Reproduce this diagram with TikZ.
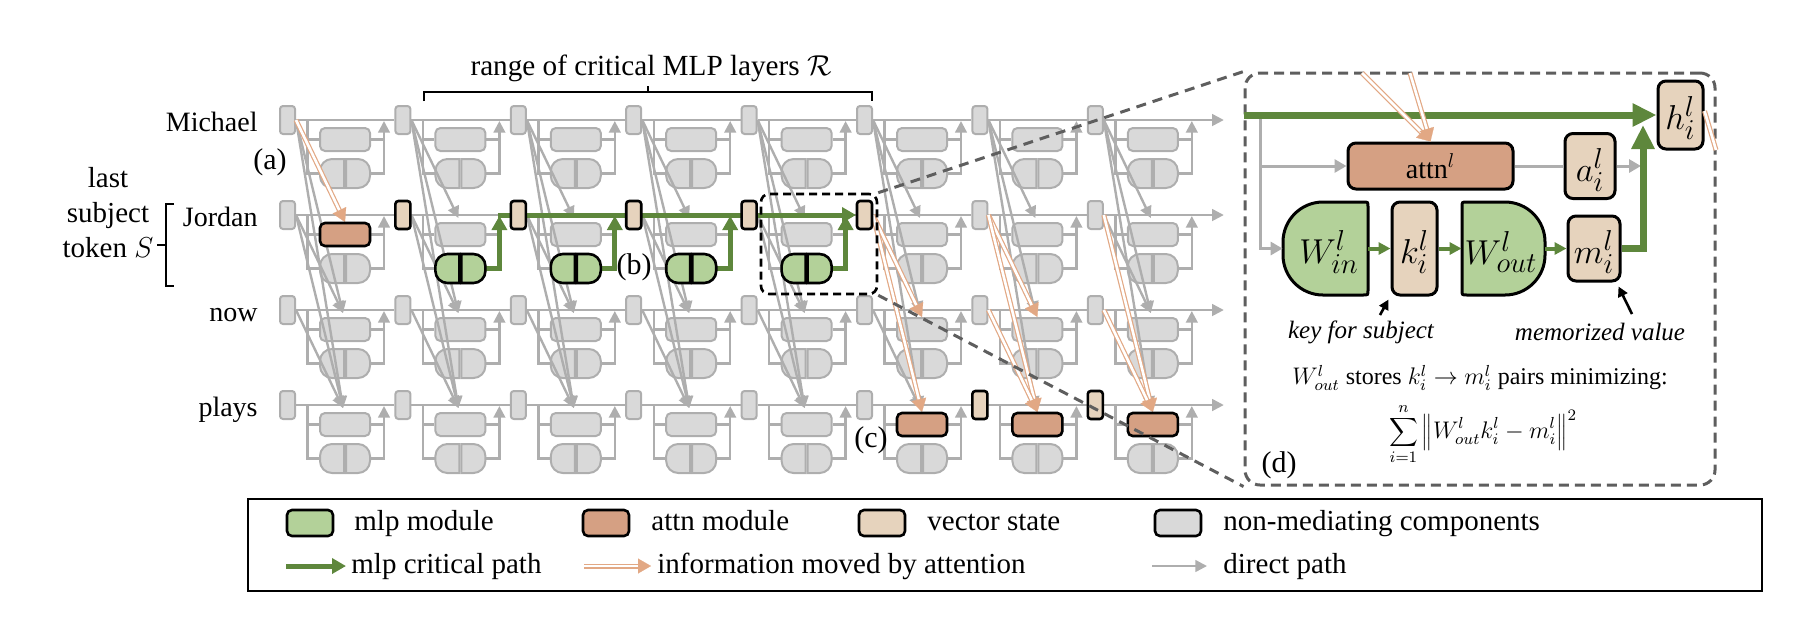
\documentclass[tikz,border=0pt]{standalone}
\usepackage{fontspec}
\setmainfont{Liberation Serif}
\usetikzlibrary{arrows.meta,calc}
\definecolor{gfill}{HTML}{D9D9D9}
\definecolor{gline}{HTML}{AEAEAE}
\definecolor{tanc}{HTML}{E6D3BD}
\definecolor{orfill}{HTML}{D5A083}
\definecolor{orline}{HTML}{E2A884}
\definecolor{grfill}{HTML}{B3D199}
\definecolor{grline}{HTML}{5E873C}
\definecolor{dgray}{HTML}{5E5E5E}
\newcommand\mlpshape[3]{%
  \path[#3] (#1+24,#2) -- (#1+12,#2) .. controls (#1+5.4,#2) and (#1,#2+5.4) .. (#1,#2+12) -- (#1,#2+17) .. controls (#1,#2+23.6) and (#1+5.4,#2+29) .. (#1+12,#2+29) -- (#1+24,#2+29) -- cycle;
  \path[#3] (#1+26,#2) -- (#1+38,#2) .. controls (#1+44.6,#2) and (#1+50,#2+5.4) .. (#1+50,#2+12) -- (#1+50,#2+17) .. controls (#1+50,#2+23.6) and (#1+44.6,#2+29) .. (#1+38,#2+29) -- (#1+26,#2+29) -- cycle;
}
\newcommand\orarrow[2]{\draw[ordbl] (#1) -- (#2); \draw[ortip] ($(#2)!6.5pt!(#1)$) -- (#2);}
\begin{document}
\begin{tikzpicture}[x=0.5pt,y=-0.5pt,
  stbox/.style={rectangle, rounded corners=1.5pt, minimum width=7.5pt, minimum height=14pt, inner sep=0pt},
  grayst/.style={stbox, fill=gfill, draw=gline, line width=1pt},
  tanst/.style={stbox, fill=tanc, draw=black, line width=1.3pt},
  atbox/.style={rectangle, rounded corners=2.5pt, minimum width=25pt, minimum height=11.5pt, inner sep=0pt},
  grayat/.style={atbox, fill=gfill, draw=gline, line width=1pt},
  orat/.style={atbox, fill=orfill, draw=black, line width=1.3pt},
  graymlp/.style={fill=gfill, draw=gline, line width=1pt},
  greenmlp/.style={fill=grfill, draw=black, line width=1.3pt},
  gl/.style={draw=gline, line width=1.2pt},
  garr/.style={gl, -{Triangle[length=5.8pt,width=5.8pt]}},
  grarr/.style={draw=grline, line width=2.5pt, -{Triangle[length=7pt,width=7.5pt]}},
  ordbl/.style={draw=orline, line width=0.6pt, double=white, double distance=1.3pt, shorten >=5pt},
  ortip/.style={draw=orline, line width=0.1pt, -{Triangle[length=6.5pt,width=7.5pt]}},
  lab/.style={inner sep=0pt, font=\fontsize{14}{17}\selectfont},
  leglab/.style={inner sep=0pt, font=\fontsize{14.5}{17}\selectfont, anchor=base west},
  plab/.style={inner sep=0pt, font=\fontsize{15}{18}\selectfont},
  bigm/.style={inner sep=0pt, font=\fontsize{19}{22}\selectfont},
  vbox/.style={rectangle, rounded corners=4pt, fill=tanc, draw=black, line width=1.5pt, inner sep=0pt},
  gl2/.style={draw=gline, line width=1.5pt},
  garr2/.style={gl2, -{Triangle[length=6pt,width=6.5pt]}},
  grsm/.style={draw=grline, line width=2pt, -{Triangle[length=6pt,width=6pt]}},
  grbig/.style={draw=grline, line width=3.5pt, -{Triangle[length=12pt,width=11pt]}},
  lgbox/.style={rectangle, rounded corners=2.5pt, minimum width=23pt, minimum height=13pt, draw=black, line width=1.3pt, inner sep=0pt},
  dashconn/.style={draw=dgray, line width=1.5pt, dash pattern=on 5pt off 3.5pt},
]
\useasboundingbox (0,0) rectangle (1808,634);

% ---------- gray grid boxes ----------
\foreach \row in {1,...,4}{
  \foreach \col in {1,...,8}{
    \pgfmathsetmacro\xx{287.5+115.4*(\col-1)}
    \pgfmathsetmacro\yy{120+95*(\row-1)}
    \node[grayst] (s-\row-\col) at (\xx,\yy) {};
    \node[grayat] (a-\row-\col) at (\xx+57.5,\yy+19.5) {};
    \coordinate (ml-\row-\col) at (\xx+32.5,\yy+53.5);
    \coordinate (mr-\row-\col) at (\xx+82.5,\yy+53.5);
    \pgfmathsetmacro\mlx{\xx+32.5}
    \pgfmathsetmacro\mly{\yy+39}
    \mlpshape{\mlx}{\mly}{graymlp}
  }
}

% ---------- gray connectors ----------
\foreach \row in {1,...,4}{
  \foreach \col in {1,...,8}{
    \draw[gl] ($(s-\row-\col.east)+(11.5,0)$) |- (ml-\row-\col);
    \draw[gl] ($(s-\row-\col.east)+(11.5,19.5)$) -- (a-\row-\col.west);
    \draw[gl] (a-\row-\col.east) -- ++(13,0);
    \draw[garr] (mr-\row-\col) -| ($(s-\row-\col.east)+(88,1)$);
  }
  \foreach \col [evaluate=\col as \nx using int(\col+1)] in {1,...,7}{
    \draw[gl] (s-\row-\col.east) -- (s-\row-\nx.west);
  }
  \draw[garr] (s-\row-8.east) -- ++(120,0);
}
\foreach \col/\pairs in {1/{1/3,1/4,2/3,2/4,3/4},2/{1/2,1/3,1/4,2/3,2/4,3/4},3/{1/2,1/3,1/4,2/3,2/4,3/4},4/{1/2,1/3,1/4,2/3,2/4,3/4},5/{1/2,1/3,1/4,2/3,2/4,3/4},6/{1/2,1/3,1/4,3/4},7/{1/2,1/3,1/4},8/{1/2,1/3,1/4,2/3}}{
  \foreach \srow/\trow in \pairs{
    \draw[garr] (s-\srow-\col.east) -- ($(a-\trow-\col.north)+(-2,-4)$);
  }
}

% ---------- orange attention arrows ----------
\orarrow{s-1-1.east}{a-2-1.north}
\orarrow{s-2-6.east}{a-3-6.north}
\orarrow{s-2-6.east}{a-4-6.north}
\orarrow{s-2-7.east}{a-3-7.north}
\orarrow{s-2-7.east}{a-4-7.north}
\orarrow{s-3-7.east}{a-4-7.north}
\orarrow{s-2-8.east}{a-4-8.north}
\orarrow{s-3-8.east}{a-4-8.north}

% ---------- green critical path ----------
\draw[grarr] ($(s-2-2.east)+(86.5,0)$) -- (s-2-6.west);
\foreach \col in {2,...,5}{
  \draw[grarr] (mr-2-\col) -| ($(s-2-\col.east)+(88,1)$);
  \pgfmathsetmacro\xx{287.5+115.4*(\col-1)}
  \pgfmathsetmacro\mlx{\xx+32.5}
  \mlpshape{\mlx}{254}{greenmlp}
}
\node[orat] (oa-2-1) at (a-2-1.center) {};
\foreach \col in {6,7,8}{ \node[orat] (oa-4-\col) at (a-4-\col.center) {}; }
\foreach \col in {2,...,6}{ \node[tanst] (ts-2-\col) at (s-2-\col.center) {}; }
\foreach \col in {7,8}{ \node[tanst] (ts-4-\col) at (s-4-\col.center) {}; }

% ---------- labels ----------
\node[lab, anchor=base east] (lMichael) at (258,131) {Michael};
\node[lab, anchor=base east] (lJordan) at (258,226.5) {Jordan};
\node[lab, anchor=base east] (lnow) at (258,321) {now};
\node[lab, anchor=base east] (lplays) at (258,416) {plays};
\node[lab, align=center, font=\fontsize{14.5}{17.5}\selectfont] (lsubj) at (108,213) {last\\subject\\token $S$};
\draw[line width=1.2pt] (174,204) -| (166,286) -- (174,286);
\draw[line width=1.2pt] (166,245) -- (157,245);
\draw[line width=1.2pt] (424,101) |- (872,92) -- (872,101);
\draw[line width=1.2pt] (648,92) -- (648,86);
\node[lab, font=\fontsize{14.6}{17}\selectfont] (lrange) at (651,68) {range of critical MLP layers $\mathcal{R}$};
\node[plab] (la) at (270,162) {(a)};
\node[plab] (lb) at (634,267) {(b)};
\node[plab] (lc) at (871,440) {(c)};

% ---------- panel (d) ----------
\node[draw=dgray, line width=1.5pt, dash pattern=on 5pt off 3pt, rounded corners=7.5pt, minimum width=235pt, minimum height=206pt, inner sep=0pt] (panel) at (1480,279) {};
\node[rectangle, rounded corners=4pt, fill=orfill, draw=black, line width=1.5pt, minimum width=82.5pt, minimum height=23pt, inner sep=0pt, font=\fontsize{14}{17}\selectfont] (attnL) at (1430.5,166) {attn$^{l}$};
\node[vbox, minimum width=25pt, minimum height=32.5pt] (aL) at (1590,166) {};
\node[vbox, minimum width=22.5pt, minimum height=34pt] (hL) at (1680.5,115) {};
\node[vbox, minimum width=22.5pt, minimum height=46.5pt] (kL) at (1414.5,248.5) {};
\node[vbox, minimum width=26pt, minimum height=32.5pt] (mL) at (1594,248.5) {};
\node[bigm] at (1590,170) {$a^{l}_{i}$};
\node[bigm] at (1680.5,118) {$h^{l}_{i}$};
\node[bigm] at (1414.5,252) {$k^{l}_{i}$};
\node[bigm] at (1594,252) {$m^{l}_{i}$};
\path[fill=grfill, draw=black, line width=1.5pt] (1363,202) -- (1323,202) .. controls (1300.9,202) and (1283,219.9) .. (1283,242) -- (1283,255) .. controls (1283,277.1) and (1300.9,295) .. (1323,295) -- (1363,295) .. controls (1368,295) and (1368,295) .. (1368,290) -- (1368,207) .. controls (1368,202) and (1368,202) .. (1363,202) -- cycle;
\path[fill=grfill, draw=black, line width=1.5pt] (1467,202) -- (1505,202) .. controls (1527.1,202) and (1545,219.9) .. (1545,242) -- (1545,255) .. controls (1545,277.1) and (1527.1,295) .. (1505,295) -- (1467,295) .. controls (1462,295) and (1462,295) .. (1462,290) -- (1462,207) .. controls (1462,202) and (1462,202) .. (1467,202) -- cycle;
\node[minimum width=42.5pt, minimum height=46.5pt, inner sep=0pt] (win) at (1325.5,248.5) {};
\node[minimum width=41.5pt, minimum height=46.5pt, inner sep=0pt] (wout) at (1503.5,248.5) {};
\node[bigm] at (1329,252) {$W^{l}_{in}$};
\node[bigm] at (1501,252) {$W^{l}_{out}$};
% panel connectors
\draw[garr2] (1260,115) |- (win.west);
\draw[garr2] (1260,166) -- (attnL.west);
\draw[grbig] (panel.west |- hL.west) -- (hL.west);
\draw[grsm] (win.east) -- (kL.west);
\draw[grsm] (kL.east) -- (wout.west);
\draw[grsm] (wout.east) -- (mL.west);
\draw[gl2] (attnL.east) -- (aL.west);
\draw[garr2] (aL.east) -- (1641,166);
\draw[grbig] (mL.east) -| (1643,125);
\coordinate (pin1) at (1362,73);
\coordinate (pin2) at (1410,73);
\coordinate (pout) at (1716,150);
\orarrow{pin1}{attnL.north}
\orarrow{pin2}{attnL.north}
\draw[draw=orline, line width=0.6pt, double=white, double distance=1.3pt] ($(hL.east)+(0,-4)$) -- (pout);
% annotations
\node[inner sep=0pt, font=\fontsize{12.5}{15}\selectfont\itshape] (tkey) at (1361,332) {key for subject};
\node[inner sep=0pt, font=\fontsize{12.5}{15}\selectfont\itshape] (tmem) at (1600,332) {memorized value};
\draw[line width=1.3pt, -{Triangle[length=5pt,width=5pt]}] (1380,315) -- ($(kL.south west)+(-2,3)$);
\draw[line width=1.3pt, -{Triangle[length=5pt,width=5pt]}] (1632,314) -- ($(mL.south east)+(-3,4)$);
\node[inner sep=0pt, anchor=west, font=\fontsize{12}{14}\selectfont] (tstore) at (1292,378) {$W^{l}_{out}$ stores $k^{l}_{i}\rightarrow m^{l}_{i}$ pairs minimizing:};
\node[inner sep=0pt, font=\fontsize{12}{14}\selectfont] (tsum) at (1483,434) {$\displaystyle\sum_{i=1}^{n}\left\| W^{l}_{out}k^{l}_{i}-m^{l}_{i}\right\|^{2}$};
\node[plab] (ld) at (1279,465) {(d)};

% ---------- zoom box and connectors ----------
\node[draw=black, line width=1.3pt, dash pattern=on 4pt off 2.5pt, rounded corners=4pt, minimum width=58pt, minimum height=50pt, inner sep=0pt] (zoombox) at (819,244) {};
\draw[dashconn] (zoombox.north east) -- (panel.north west);
\draw[dashconn] (zoombox.south east) -- (panel.south west);

% ---------- legend ----------
\node[draw=black, line width=1.3pt, minimum width=757pt, minimum height=46pt, inner sep=0pt] (legend) at (1005,545) {};
\node[lgbox, fill=grfill] (lg1) at (310,523) {};
\node[leglab] at (354,530) {mlp module};
\node[lgbox, fill=orfill] (lg2) at (606,523) {};
\node[leglab] at (651,530) {attn module};
\node[lgbox, fill=tanc] (lg3) at (882,523) {};
\node[leglab] at (927,530) {vector state};
\node[lgbox, fill=gfill] (lg4) at (1178,523) {};
\node[leglab] at (1223,530) {non-mediating components};
\coordinate (lga1) at (286,566); \coordinate (lgb1) at (346,566);
\coordinate (lga2) at (584,566); \coordinate (lgb2) at (651,566);
\coordinate (lga3) at (1152,566); \coordinate (lgb3) at (1207,566);
\draw[grarr] (lga1) -- (lgb1);
\node[leglab] at (351,573) {mlp critical path};
\orarrow{lga2}{lgb2}
\node[leglab] at (657,573) {information moved by attention};
\draw[garr] (lga3) -- (lgb3);
\node[leglab] at (1223,573) {direct path};
\end{tikzpicture}
\end{document}
